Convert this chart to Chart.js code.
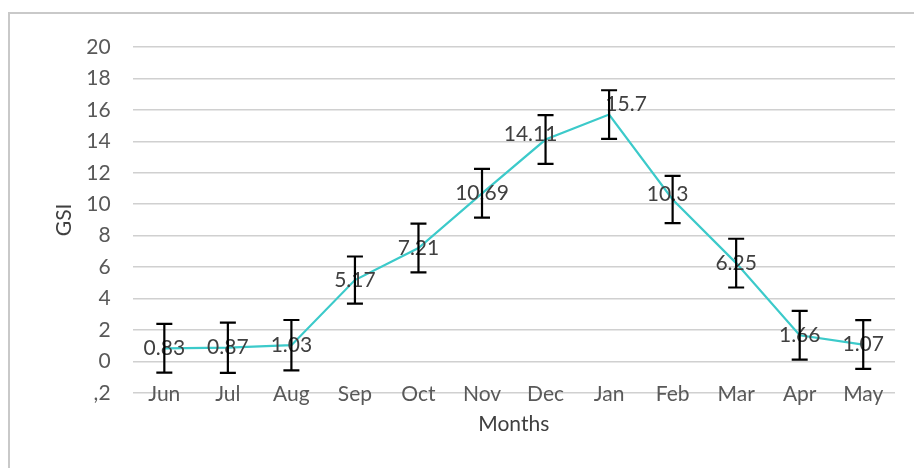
<!DOCTYPE html>
<html>
<head>
<meta charset="utf-8">
<script src="https://cdn.jsdelivr.net/npm/chart.js@4"></script>
<style>
  html, body { margin: 0; padding: 0; background: #fff; }
  body { width: 914px; height: 468px; position: relative; overflow: hidden; }
  .frame { position: absolute; left: 8px; top: 12px; width: 1000px; height: 1000px; border-left: 2px solid #c9c9c9; border-top: 2px solid #c9c9c9; }
  #myChart { position: absolute; left: 0; top: 0; }
</style>
</head>
<body>
<div class="frame"></div>
<canvas id="myChart" width="914" height="468"></canvas>
<script>
// months on the x axis
const months = ['Jun', 'Jul', 'Aug', 'Sep', 'Oct', 'Nov', 'Dec', 'Jan', 'Feb', 'Mar', 'Apr', 'May'];
// GSI mean per month
const gsi = [0.83, 0.87, 1.03, 5.17, 7.21, 10.69, 14.11, 15.7, 10.3, 6.25, 1.66, 1.07];
// error bar half length
const gsiErr = [1.55, 1.6, 1.6, 1.5, 1.55, 1.55, 1.55, 1.55, 1.5, 1.55, 1.55, 1.55];
// y tick values
const yTicks = [-2, 0, 2, 4, 6, 8, 10, 12, 14, 16, 18, 20];

const fontName = 'Lato, "Open Sans", sans-serif';
const fontSize = 21;

//month names sit right on the bottom gridline, chart.js would clip them so draw them here
const monthLabels = {
    id: 'monthLabels',
    afterDraw(chart) {
        const ctx = chart.ctx;
        const x = chart.scales.x;
        ctx.save();
        ctx.font = fontSize + 'px ' + fontName;
        ctx.fillStyle = '#595959';
        ctx.textAlign = 'center';
        ctx.textBaseline = 'middle';
        months.forEach((m, i) => {
            ctx.fillText(m, x.getPixelForValue(i), chart.chartArea.bottom + 1);
        });
        ctx.restore();
    }
};

//draws the numbers on the points
const valueLabels = {
    id: 'valueLabels',
    afterDatasetsDraw(chart, args, opts) {
        const ctx = chart.ctx;
        const meta = chart.getDatasetMeta(0);
        ctx.save();
        ctx.font = fontSize + 'px ' + fontName;
        ctx.fillStyle = '#404040';
        ctx.textAlign = 'center';
        ctx.textBaseline = 'middle';
        meta.data.forEach((pt, i) => {
            const nudge = opts.nudge[i] || [0, 0];
            ctx.fillText(String(gsi[i]), pt.x + nudge[0], pt.y + nudge[1]);
        });
        ctx.restore();
    }
};

//error bars, drawn after the labels
const errorBars = {
    id: 'errorBars',
    afterDatasetsDraw(chart) {
        const ctx = chart.ctx;
        const x = chart.scales.x;
        const y = chart.scales.y;
        ctx.save();
        ctx.strokeStyle = '#000';
        ctx.lineWidth = 2.2;
        for (let i = 0; i < gsi.length; i++) {
            const px = x.getPixelForValue(i);
            const top = y.getPixelForValue(gsi[i] + gsiErr[i]);
            const bot = y.getPixelForValue(gsi[i] - gsiErr[i]);
            ctx.beginPath();
            ctx.moveTo(px, top); ctx.lineTo(px, bot);
            ctx.moveTo(px - 8, top); ctx.lineTo(px + 8, top);
            ctx.moveTo(px - 8, bot); ctx.lineTo(px + 8, bot);
            ctx.stroke();
        }
        ctx.restore();
    }
};

new Chart('myChart', {
    type: 'line',
    data: {
        labels: months,
        datasets: [{
            data: gsi,
            borderColor: '#3ccaca',
            borderWidth: 2.2,
            pointRadius: 0,
            tension: 0
        }]
    },
    options: {
        responsive: false,
        animation: false,
        events: [],
        layout: { padding: { left: 52, right: 19, top: 47, bottom: 31 } },
        plugins: {
            legend: { display: false },
            tooltip: { enabled: false },
            valueLabels: { nudge: { 6: [-15, -5], 7: [17, -10], 8: [-5, -5] } }
        },
        scales: {
            x: {
                offset: true,
                grid: { display: false, drawTicks: false },
                border: { display: false },
                ticks: { display: false },
                title: { display: true, text: 'Months', color: '#404040', font: { family: fontName, size: fontSize }, padding: { top: 19, bottom: 0 } }
            },
            y: {
                min: -2,
                max: 20,
                afterBuildTicks: (axis) => { axis.ticks = yTicks.map(v => ({ value: v })); },
                grid: { color: '#d0d0d0', lineWidth: 1.5, drawTicks: false },
                border: { display: false },
                ticks: {
                    color: '#595959',
                    font: { family: fontName, size: fontSize },
                    padding: 22,
                    callback: (v) => v < 0 ? ',' + Math.abs(v) : String(v)
                },
                title: { display: true, text: 'GSI', color: '#404040', font: { family: fontName, size: fontSize }, padding: { top: 0, bottom: -13 } }
            }
        }
    },
    plugins: [monthLabels, valueLabels, errorBars]
});
</script>
</body>
</html>
